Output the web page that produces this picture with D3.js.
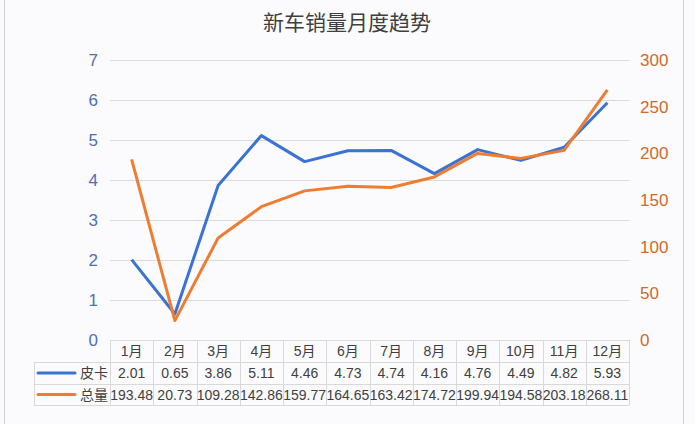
<!DOCTYPE html>
<html>
<head>
<meta charset="utf-8">
<script src="https://cdn.jsdelivr.net/npm/d3@7"></script>
<style>
  body { margin: 0; background: #fbfbfd; }
  text { font-family: "Liberation Sans", Arial, "Noto Sans CJK SC", sans-serif; }
</style>
</head>
<body>
<div id="chart"></div>
<script>
// chart data
var months = ["1月","2月","3月","4月","5月","6月","7月","8月","9月","10月","11月","12月"];
var pickup = [2.01, 0.65, 3.86, 5.11, 4.46, 4.73, 4.74, 4.16, 4.76, 4.49, 4.82, 5.93];
var total = [193.48, 20.73, 109.28, 142.86, 159.77, 164.65, 163.42, 174.72, 199.94, 194.58, 203.18, 268.11];
var seriesNames = ["皮卡", "总量"];
var leftTicks = [0, 1, 2, 3, 4, 5, 6, 7];
var rightTicks = [0, 50, 100, 150, 200, 250, 300];

var width = 695, height = 424;
var blue = "#3a73d1", orange = "#ed7d31";
var gridColor = "#d9d9d9";

var svg = d3.select("#chart").append("svg")
  .attr("width", width)
  .attr("height", height);

// outer frame
svg.append("rect")
  .attr("x", 4.5).attr("y", -2)
  .attr("width", 679).attr("height", height + 4)
  .attr("fill", "#fbfbfd")
  .attr("stroke", "#d0d0d0");

//Scales
var x = d3.scaleBand().domain(months).range([110, 629]);
var yL = d3.scaleLinear().domain([0, 7]).range([340, 60]);
var yR = d3.scaleLinear().domain([0, 300]).range([340, 60]);

// title
svg.append("text")
  .attr("x", 347).attr("y", 30)
  .attr("text-anchor", "middle")
  .attr("font-size", 21)
  .attr("fill", "#3f3f3f")
  .style("font-family", "'Noto Sans CJK SC', sans-serif")
  .text("新车销量月度趋势");

// gridlines
svg.append("g").selectAll("line")
  .data(leftTicks.filter(function(d) { return d > 0; }))
  .enter().append("line")
  .attr("x1", 110).attr("x2", 629)
  .attr("y1", function(d) { return Math.round(yL(d)) + 0.5; })
  .attr("y2", function(d) { return Math.round(yL(d)) + 0.5; })
  .attr("stroke", gridColor);

// left axis
var gl = svg.append("g")
  .attr("transform", "translate(98,0)")
  .call(d3.axisLeft(yL).tickValues(leftTicks).tickFormat(d3.format("d")).tickSize(0).tickPadding(0));
gl.select(".domain").remove();
gl.selectAll("text")
  .attr("font-size", 17)
  .attr("fill", "#4a70b8")
  .style("font-family", "'Liberation Sans', Arial, sans-serif");

// right axis
var gr = svg.append("g")
  .attr("transform", "translate(640,0)")
  .call(d3.axisRight(yR).tickValues(rightTicks).tickSize(0).tickPadding(0));
gr.select(".domain").remove();
gr.selectAll("text")
  .attr("font-size", 17)
  .attr("fill", "#d0692c")
  .style("font-family", "'Liberation Sans', Arial, sans-serif");

// lines
var cx = function(d, i) { return x(months[i]) + x.bandwidth() / 2; };

svg.append("path")
  .datum(pickup)
  .attr("fill", "none")
  .attr("stroke", blue)
  .attr("stroke-width", 3)
  .attr("stroke-linejoin", "round")
  .attr("d", d3.line().x(cx).y(function(d) { return yL(d); }));

svg.append("path")
  .datum(total)
  .attr("fill", "none")
  .attr("stroke", orange)
  .attr("stroke-width", 3)
  .attr("stroke-linejoin", "round")
  .attr("d", d3.line().x(cx).y(function(d) { return yR(d); }));

// data table
var rowY = [340, 362, 384, 405];
var table = svg.append("g");

// horizontal borders
table.append("line").attr("x1", 110).attr("x2", 629).attr("y1", 340.5).attr("y2", 340.5).attr("stroke", gridColor);
[362, 384, 405].forEach(function(yy) {
  table.append("line").attr("x1", 34).attr("x2", 629).attr("y1", yy + 0.5).attr("y2", yy + 0.5).attr("stroke", gridColor);
});
// vertical borders
table.append("line").attr("x1", 34.5).attr("x2", 34.5).attr("y1", 362).attr("y2", 405).attr("stroke", gridColor);
months.forEach(function(m) {
  var xx = Math.round(x(m)) + 0.5;
  table.append("line").attr("x1", xx).attr("x2", xx).attr("y1", 340).attr("y2", 405).attr("stroke", gridColor);
});
table.append("line").attr("x1", 629.5).attr("x2", 629.5).attr("y1", 340).attr("y2", 405).attr("stroke", gridColor);

var rows = [months, pickup.map(function(d) { return d.toFixed(2); }), total.map(function(d) { return d.toFixed(2); })];
rows.forEach(function(row, r) {
  table.append("g").selectAll("text")
    .data(row)
    .enter().append("text")
    .attr("x", function(d, i) { return x(months[i]) + x.bandwidth() / 2; })
    .attr("y", (rowY[r] + rowY[r + 1]) / 2 + 5)
    .attr("text-anchor", "middle")
    .attr("font-size", 14)
    .attr("fill", "#404040")
    .text(function(d) { return d; });
});

// legend keys inside the table
[blue, orange].forEach(function(c, i) {
  var yy = (rowY[i + 1] + rowY[i + 2]) / 2;
  table.append("line")
    .attr("x1", 38).attr("x2", 75)
    .attr("y1", yy).attr("y2", yy)
    .attr("stroke", c).attr("stroke-width", 3)
    .attr("stroke-linecap", "round");
  table.append("text")
    .attr("x", 108).attr("y", yy + 5)
    .attr("text-anchor", "end")
    .attr("font-size", 14)
    .attr("fill", "#404040")
    .style("font-family", "'Noto Sans CJK SC', sans-serif")
    .text(seriesNames[i]);
});
</script>
</body>
</html>
